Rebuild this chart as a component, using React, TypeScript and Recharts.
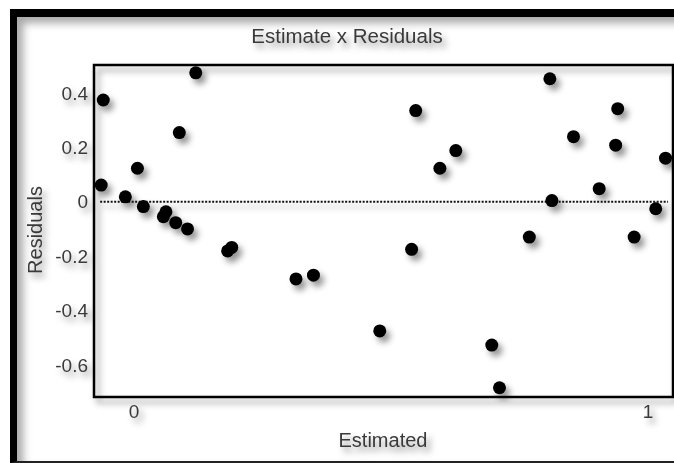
import React from "react";
import {
  ScatterChart,
  Scatter,
  XAxis,
  YAxis,
  ReferenceArea,
  ReferenceLine,
} from "recharts";

// values
const estimated = [
  -0.06, 0.12, 0.088, 0.0065, -0.064, -0.017, 0.018, 0.062, 0.057, 0.081, 0.104,
  0.19, 0.182, 0.315, 0.349, 0.478, 0.54, 0.548, 0.595, 0.626, 0.696, 0.711,
  0.769, 0.809, 0.813, 0.855, 0.905, 0.941, 0.937, 0.973, 1.015, 1.034,
];
const residuals = [
  0.374, 0.474, 0.254, 0.123, 0.061, 0.018, -0.018, -0.037, -0.055, -0.077, -0.1,
  -0.168, -0.181, -0.284, -0.27, -0.475, -0.175, 0.335, 0.123, 0.188, -0.527,
  -0.684, -0.13, 0.452, 0.004, 0.239, 0.048, 0.342, 0.208, -0.13, -0.026, 0.16,
];
const xTicks = [0, 1];
const yTicks = [-0.6, -0.4, -0.2, 0, 0.2, 0.4];
const xDomain: [number, number] = [-0.078, 1.0486];
const yDomain: [number, number] = [-0.718, 0.5026];

const points = estimated.map((x, i) => ({ x, y: residuals[i] }));

const FONT = '"Liberation Sans", Arial, sans-serif';
const TEXT = "#3a3a3a";
const SHADOW = "drop-shadow(4px 5px 3px rgba(0,0,0,0.42))";

const fmt = (v: number) => String(Number(v.toFixed(1)));

const Dot = (props: any) => (
  <circle cx={props.cx} cy={props.cy} r={6.5} fill="#000" />
);

export default function App() {
  return (
    <div
      style={{
        position: "absolute",
        left: 0,
        top: 0,
        width: 674,
        height: 463,
        overflow: "hidden",
        background: "#fff",
        fontFamily: FONT,
      }}
    >
      {/* window frame */}
      <div
        style={{
          position: "absolute",
          left: 10,
          top: 9,
          width: 700,
          height: 444,
          borderTop: "8px solid #000",
          borderLeft: "7px solid #000",
          borderBottom: "2px solid #222",
          boxShadow: "inset 6px 6px 8px rgba(0,0,0,0.35)",
        }}
      />
      <div style={{ position: "absolute", left: 0, top: 0, filter: SHADOW }}>
        <ScatterChart
          width={674}
          height={463}
          margin={{ top: 65, right: 1, bottom: 0, left: 0 }}
        >
          <XAxis
            type="number"
            dataKey="x"
            domain={xDomain}
            ticks={xTicks}
            allowDataOverflow
            height={66}
            axisLine={false}
            tickLine={false}
            tickSize={0}
            tickMargin={8}
            tick={{ fill: TEXT, fontSize: 19, fontFamily: FONT }}
          />
          <YAxis
            type="number"
            dataKey="y"
            domain={yDomain}
            ticks={yTicks}
            allowDataOverflow
            width={94}
            axisLine={false}
            tickLine={false}
            tickSize={0}
            tickMargin={6}
            tickFormatter={fmt}
            tick={{ fill: TEXT, fontSize: 19, fontFamily: FONT }}
          />
          <ReferenceArea
            x1={xDomain[0]}
            x2={xDomain[1]}
            y1={yDomain[0]}
            y2={yDomain[1]}
            fill="none"
            stroke="#000"
            strokeWidth={2.5}
            ifOverflow="visible"
          />
          <ReferenceLine
            segment={[
              { x: -0.066, y: 0 },
              { x: 1.039, y: 0 },
            ]}
            stroke="#111"
            strokeWidth={2}
            strokeDasharray="2 1.5"
          />
          <Scatter data={points} shape={Dot} isAnimationActive={false} />
        </ScatterChart>
      </div>
      <svg
        width={674}
        height={463}
        style={{ position: "absolute", left: 0, top: 0, filter: SHADOW }}
      >
        <text x={347} y={43} textAnchor="middle" fontSize={20.5} fill={TEXT} fontFamily={FONT}>
          Estimate x Residuals
        </text>
        <text x={383} y={447} textAnchor="middle" fontSize={20} fill={TEXT} fontFamily={FONT}>
          Estimated
        </text>
        <text
          x={0}
          y={0}
          transform="translate(42,230) rotate(-90)"
          textAnchor="middle"
          fontSize={20}
          fill={TEXT}
          fontFamily={FONT}
        >
          Residuals
        </text>
      </svg>
    </div>
  );
}
